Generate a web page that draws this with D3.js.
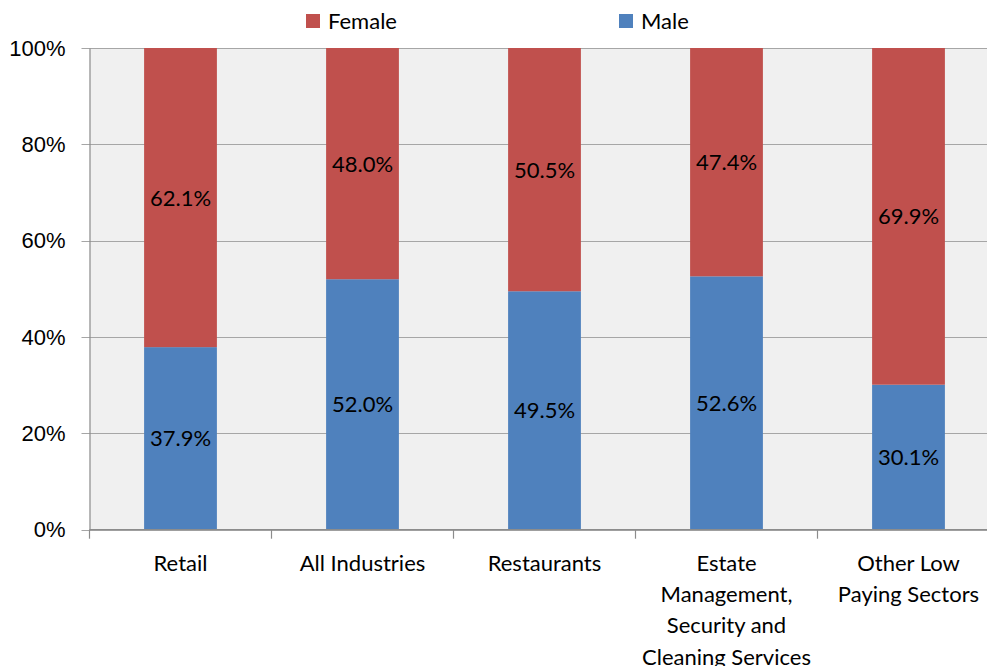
<!DOCTYPE html>
<html>
<head>
<meta charset="utf-8">
<script src="https://cdn.jsdelivr.net/npm/d3@7"></script>
<style>
  body { margin: 0; background: #fff; }
  svg { display: block; font-family: Lato, "Liberation Sans", sans-serif; }
</style>
</head>
<body>
<script>
// chart data
var categories = ['Retail', 'All Industries', 'Restaurants', 'Estate Management, Security and Cleaning Services', 'Other Low Paying Sectors'];
var categoryLines = [
  ['Retail'],
  ['All Industries'],
  ['Restaurants'],
  ['Estate', 'Management,', 'Security and', 'Cleaning Services'],
  ['Other Low', 'Paying Sectors']
];
var maleValues = [37.9, 52.0, 49.5, 52.6, 30.1];
var femaleValues = [62.1, 48.0, 50.5, 47.4, 69.9];
var seriesNames = ['Female', 'Male'];
var yTicks = [0, 20, 40, 60, 80, 100];

var colors = { Female: '#C0504D', Male: '#4F81BD' };

var width = 987, height = 666;
var margin = { top: 48, left: 89.5, bottom: 136.3 };
var plotRight = 999.5; // plot runs off the right edge in the original
var fontSize = '22px';

var svg = d3.select('body').append('svg')
  .attr('width', width).attr('height', height);

var x = d3.scaleBand()
  .domain(categories)
  .range([margin.left, plotRight])
  .paddingInner(0.6)
  .paddingOuter(0.3);

var y = d3.scaleLinear()
  .domain([0, 100])
  .range([height - margin.bottom, margin.top]);

// plot background
svg.append('rect')
  .attr('x', margin.left).attr('y', y(100))
  .attr('width', plotRight - margin.left)
  .attr('height', y(0) - y(100))
  .attr('fill', '#f0f0f0');

// gridlines
svg.append('g')
  .selectAll('line')
  .data(yTicks)
  .enter().append('line')
  .attr('x1', margin.left - 8).attr('x2', plotRight)
  .attr('y1', function (d) { return Math.round(y(d)) + 0.5; })
  .attr('y2', function (d) { return Math.round(y(d)) + 0.5; })
  .attr('stroke', '#a6a6a6')
  .attr('stroke-width', 1.2);

var rows = categories.map(function (c, i) {
  return { cat: c, Male: maleValues[i], Female: femaleValues[i] };
});
var stacked = d3.stack().keys(['Male', 'Female'])(rows);

var layers = svg.append('g').selectAll('g')
  .data(stacked)
  .enter().append('g')
  .attr('fill', function (d) { return colors[d.key]; });

layers.selectAll('rect')
  .data(function (d) { return d; })
  .enter().append('rect')
  .attr('x', function (d) { return x(d.data.cat); })
  .attr('y', function (d) { return y(d[1]); })
  .attr('width', x.bandwidth())
  .attr('height', function (d) { return y(d[0]) - y(d[1]); });

// value labels
layers.selectAll('text')
  .data(function (d) { return d; })
  .enter().append('text')
  .attr('x', function (d) { return x(d.data.cat) + x.bandwidth() / 2; })
  .attr('y', function (d) { return (y(d[0]) + y(d[1])) / 2 + 8; })
  .attr('text-anchor', 'middle')
  .attr('fill', '#000')
  .style('font-size', fontSize)
  .text(function (d) { return (d[1] - d[0]).toFixed(1) + '%'; });

// y axis
var yAxis = svg.append('g')
  .attr('transform', 'translate(' + margin.left + ',0)')
  .call(d3.axisLeft(y).tickValues(yTicks).tickSize(0).tickPadding(24)
    .tickFormat(function (d) { return d + '%'; }));
yAxis.select('.domain').attr('stroke', '#8c8c8c').attr('stroke-width', 1.2);
yAxis.selectAll('text').style('font-size', fontSize).attr('fill', '#000');

// x axis with ticks at category boundaries
var xAxisG = svg.append('g')
  .attr('transform', 'translate(0,' + y(0) + ')');
xAxisG.append('line')
  .attr('x1', margin.left).attr('x2', plotRight)
  .attr('stroke', '#8c8c8c').attr('stroke-width', 1.2);
var bounds = categories.map(function (c) { return x(c) - x.step() * 0.3; })
  .concat([plotRight]);
xAxisG.selectAll('.tick')
  .data(bounds)
  .enter().append('line')
  .attr('x1', function (d) { return d; })
  .attr('x2', function (d) { return d; })
  .attr('y1', 0).attr('y2', 9)
  .attr('stroke', '#8c8c8c').attr('stroke-width', 1.2);

xAxisG.selectAll('.catlabel')
  .data(categories)
  .enter().append('text')
  .attr('class', 'catlabel')
  .attr('text-anchor', 'middle')
  .attr('fill', '#000')
  .style('font-size', fontSize)
  .each(function (d, i) {
    var t = d3.select(this);
    categoryLines[i].forEach(function (line, j) {
      t.append('tspan')
        .attr('x', x(d) + x.bandwidth() / 2)
        .attr('y', 41 + j * 31.3)
        .text(line);
    });
  });

// legend
var legendX = [306, 619];
var legend = svg.append('g').selectAll('g')
  .data(seriesNames)
  .enter().append('g')
  .attr('transform', function (d, i) { return 'translate(' + legendX[i] + ',14)'; });
legend.append('rect')
  .attr('width', 14).attr('height', 14)
  .attr('fill', function (d) { return colors[d]; });
legend.append('text')
  .attr('x', 22).attr('y', 15)
  .style('font-size', fontSize)
  .attr('fill', '#000')
  .text(function (d) { return d; });
</script>
</body>
</html>
